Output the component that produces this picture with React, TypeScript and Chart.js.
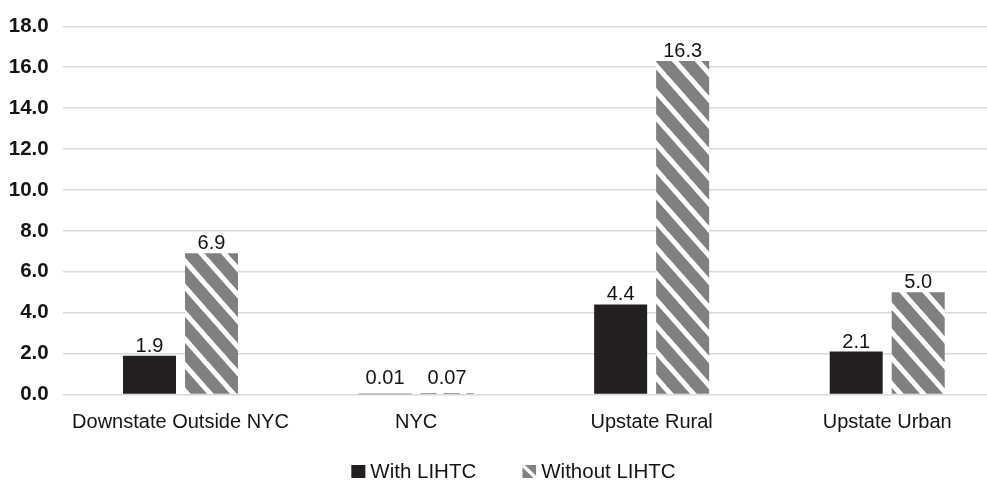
import React, { useEffect, useRef } from "react";
import { Chart, registerables } from "chart.js";

Chart.register(...registerables);

// Chart data
const regions = ["Downstate Outside NYC", "NYC", "Upstate Rural", "Upstate Urban"];
const seriesNames = ["With LIHTC", "Without LIHTC"];
const withLihtc = [1.9, 0.01, 4.4, 2.1];
const withoutLihtc = [6.9, 0.07, 16.3, 5.0];
const yMin = 0;
const yMax = 18;
const yStep = 2;

const FONT = "'Liberation Sans', Arial, Helvetica, sans-serif";
const TEXT = "#141414";
const DARK = "#231f20";
const GRAY = "#808080";

const formatValue = (v: number) => (Math.abs(v) < 0.1 ? v.toFixed(2) : v.toFixed(1));

// Gray fill with white "\" stripes
function makeHatch(): CanvasPattern | string {
  const W = 23;
  const H = 26;
  const c = document.createElement("canvas");
  c.width = W;
  c.height = H;
  const g = c.getContext("2d");
  if (!g) return GRAY;
  g.fillStyle = GRAY;
  g.fillRect(0, 0, W, H);
  g.strokeStyle = "#ffffff";
  g.lineWidth = 5;
  for (const off of [-W, 0, W]) {
    g.beginPath();
    g.moveTo(off - W * 0.2, -H * 0.2);
    g.lineTo(off + W * 1.2, H * 1.2);
    g.stroke();
  }
  return g.createPattern(c, "repeat") || GRAY;
}

const valueLabels = {
  id: "valueLabels",
  afterDatasetsDraw(chart: any) {
    const ctx = chart.ctx as CanvasRenderingContext2D;
    const zeroY = chart.scales.y.getPixelForValue(0);
    ctx.save();
    ctx.font = `20px ${FONT}`;
    ctx.fillStyle = TEXT;
    ctx.textAlign = "center";
    ctx.textBaseline = "alphabetic";
    chart.data.datasets.forEach((ds: any, i: number) => {
      const meta = chart.getDatasetMeta(i);
      meta.data.forEach((bar: any, j: number) => {
        const v = ds.data[j] as number;
        const y = Math.min(bar.y - 4, zeroY - 11);
        ctx.fillText(formatValue(v), bar.x, y);
      });
    });
    ctx.restore();
  },
};

const bottomLegend = {
  id: "bottomLegend",
  afterDraw(chart: any) {
    const ctx = chart.ctx as CanvasRenderingContext2D;
    const boxW = 14;
    const boxH = 13;
    const textGap = 5;
    const itemGap = 46;
    const cy = 471;
    ctx.save();
    ctx.font = `20.5px ${FONT}`;
    ctx.textBaseline = "middle";
    ctx.textAlign = "left";
    const items = chart.data.datasets.map((ds: any) => ({
      label: ds.label as string,
      w: boxW + textGap + ctx.measureText(ds.label).width,
    }));
    const total = items.reduce((s: number, it: any) => s + it.w, 0) + itemGap * (items.length - 1);
    let x = chart.width / 2 - total / 2;
    items.forEach((it: any, i: number) => {
      const top = cy - boxH / 2 + 0.5;
      if (i === 0) {
        ctx.fillStyle = DARK;
        ctx.fillRect(x, top, boxW, boxH);
      } else {
        ctx.save();
        ctx.beginPath();
        ctx.rect(x, top, boxW, boxH);
        ctx.clip();
        ctx.fillStyle = GRAY;
        ctx.fillRect(x, top, boxW, boxH);
        ctx.strokeStyle = "#ffffff";
        ctx.lineWidth = 3.5;
        ctx.beginPath();
        ctx.moveTo(x - 2, top - 2);
        ctx.lineTo(x + boxW + 2, top + boxH + 2);
        ctx.stroke();
        ctx.restore();
      }
      ctx.fillStyle = TEXT;
      ctx.fillText(it.label, x + boxW + textGap, cy + 1);
      x += it.w + itemGap;
    });
    ctx.restore();
  },
};

export default function App() {
  const canvasRef = useRef<HTMLCanvasElement | null>(null);

  useEffect(() => {
    document.body.style.overflow = "hidden";
    const canvas = canvasRef.current;
    if (!canvas) return;
    const hatch = makeHatch();
    const chart = new Chart(canvas, {
      type: "bar",
      data: {
        labels: regions,
        datasets: [
          { label: seriesNames[0], data: withLihtc, backgroundColor: DARK, borderWidth: 0 },
          { label: seriesNames[1], data: withoutLihtc, backgroundColor: hatch as any, borderWidth: 0 },
        ],
      },
      options: {
        animation: false,
        responsive: true,
        maintainAspectRatio: false,
        categoryPercentage: 0.5263,
        barPercentage: 0.855,
        layout: { padding: { top: 22, right: 22, bottom: 40.5, left: 0 } },
        plugins: {
          legend: { display: false },
          tooltip: { enabled: false },
          title: { display: false },
        },
        scales: {
          x: {
            grid: { display: false, drawTicks: false },
            border: { display: false },
            ticks: {
              color: TEXT,
              font: { family: FONT, size: 20 },
              padding: 16,
              maxRotation: 0,
              autoSkip: false,
            },
            afterFit(scale: any) {
              scale.height = 45;
            },
          },
          y: {
            min: yMin,
            max: yMax,
            grid: { color: "#d9d9d9", lineWidth: 1.5, drawTicks: false },
            border: { display: false },
            ticks: {
              stepSize: yStep,
              color: TEXT,
              font: { family: FONT, size: 20.5, weight: "bold" },
              padding: 14,
              callback: (v: any) => Number(v).toFixed(1),
            },
            afterFit(scale: any) {
              scale.width = 62.7;
            },
          },
        },
      },
      plugins: [valueLabels, bottomLegend],
    });
    return () => chart.destroy();
  }, []);

  return (
    <div style={{ position: "absolute", left: 0, top: 0, width: 1027, height: 480 }}>
      <canvas ref={canvasRef} />
    </div>
  );
}
